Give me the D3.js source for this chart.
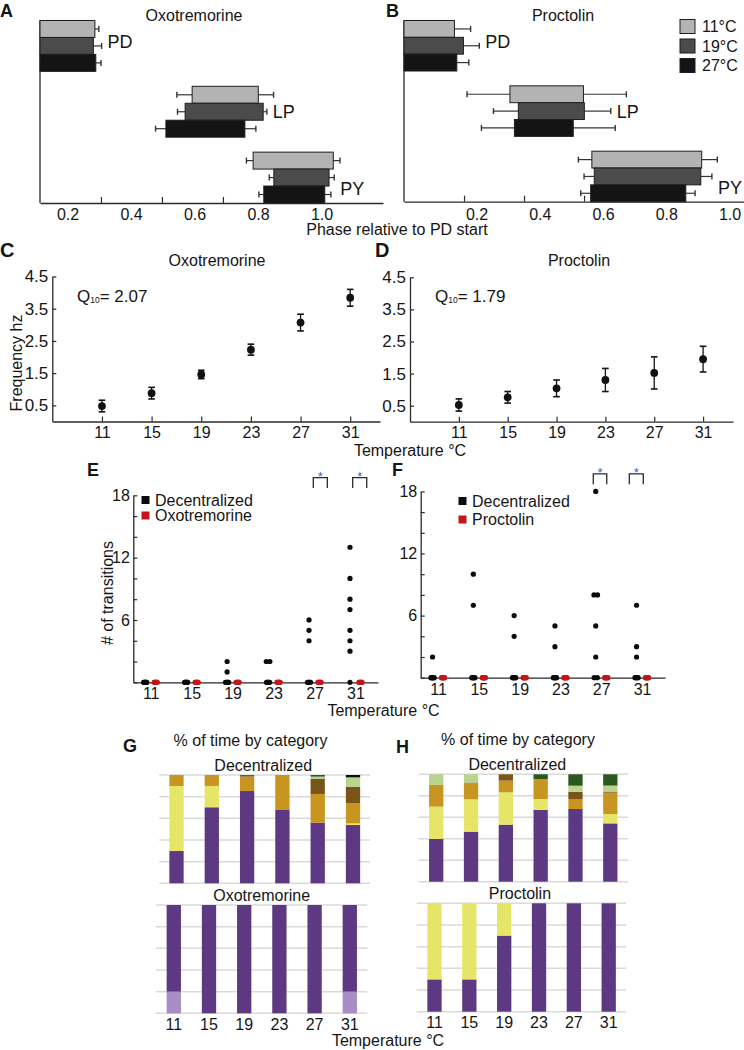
<!DOCTYPE html>
<html><head><meta charset="utf-8">
<script src="https://cdn.jsdelivr.net/npm/d3@7"></script>
<style>
body{margin:0;background:#fff}
svg{display:block}
text{font-family:"Liberation Sans",Arial,Helvetica,sans-serif}
</style>
</head><body>
<svg id="chart" width="744" height="1050"></svg>
<script>
// ---------------- DATA ----------------
const neurons = ["PD", "LP", "PY"];
const phaseTemps = ["11°C", "19°C", "27°C"];
const phaseColors = ["#b3b3b3", "#4b4b4b", "#141414"];
const phaseTicks = [0.2, 0.4, 0.6, 0.8];
const phaseTickLabels = [0.2, 0.4, 0.6, 0.8, 1.0];

// rows: neuron, columns: 11/19/27 °C
const oxoOn = [[0, 0, 0], [0.499, 0.476, 0.413], [0.699, 0.767, 0.734]];
const oxoOff = [[0.180, 0.175, 0.183], [0.716, 0.732, 0.672], [0.962, 0.948, 0.934]];
const oxoOnErr = [[0, 0, 0], [0.050, 0.025, 0.034], [0.022, 0.015, 0.016]];
const oxoOffErr = [[0.013, 0.027, 0.017], [0.050, 0.012, 0.036], [0.022, 0.017, 0.020]];

const procOn = [[0, 0, 0], [0.353, 0.381, 0.368], [0.626, 0.634, 0.622]];
const procOff = [[0.168, 0.198, 0.176], [0.598, 0.601, 0.564], [0.992, 0.989, 0.939]];
const procOnErr = [[0, 0, 0], [0.143, 0.083, 0.110], [0.045, 0.034, 0.033]];
const procOffErr = [[0.054, 0.053, 0.040], [0.143, 0.088, 0.140], [0.052, 0.037, 0.031]];

const temps = [11, 15, 19, 23, 27, 31];
const freqTicks = [0.5, 1.5, 2.5, 3.5, 4.5];
const oxoFreq = [0.48, 0.88, 1.46, 2.23, 3.07, 3.84];
const oxoFreqErr = [0.18, 0.18, 0.13, 0.17, 0.26, 0.26];
const procFreq = [0.52, 0.76, 1.04, 1.30, 1.52, 1.95];
const procFreqErr = [0.19, 0.18, 0.26, 0.36, 0.50, 0.40];

const transTicks = [0, 2, 4, 6, 8, 10, 12, 14, 16, 18];
const transTickLabels = [6, 12, 18];
const oxoDecTrans = [
  [0, 0, 0, 0, 0, 0, 0, 0],
  [0, 0, 0, 0, 0, 0, 0, 0],
  [2, 1, 0, 0, 0, 0, 0, 0],
  [2, 2, 0, 0, 0, 0, 0, 0],
  [6, 5, 4, 0, 0, 0, 0, 0],
  [13, 10, 8, 7, 5, 4, 3, 0]
];
const oxoDrugTrans = [
  [0, 0, 0, 0, 0, 0, 0, 0],
  [0, 0, 0, 0, 0, 0, 0, 0],
  [0, 0, 0, 0, 0, 0, 0, 0],
  [0, 0, 0, 0, 0, 0, 0, 0],
  [0, 0, 0, 0, 0, 0, 0, 0],
  [0, 0, 0, 0, 0, 0, 0, 0]
];
const procDecTrans = [
  [2, 0, 0, 0, 0, 0, 0],
  [10, 7, 0, 0, 0, 0, 0],
  [6, 4, 0, 0, 0, 0, 0],
  [5, 3, 0, 0, 0, 0, 0],
  [18, 8, 8, 5, 2, 0, 0],
  [7, 3, 2, 0, 0, 0, 0]
];
const procDrugTrans = [
  [0, 0, 0, 0, 0, 0, 0],
  [0, 0, 0, 0, 0, 0, 0],
  [0, 0, 0, 0, 0, 0, 0],
  [0, 0, 0, 0, 0, 0, 0],
  [0, 0, 0, 0, 0, 0, 0],
  [0, 0, 0, 0, 0, 0, 0]
];
// significance brackets (temperature units)
const oxoSig = [[26.88, 28.25], [30.73, 32.10]];
const procSig = [[26.22, 27.54], [29.75, 31.12]];

// % of time by category; categories bottom -> top
const categories = ["light purple", "purple", "yellow", "gold", "brown", "light green", "dark green", "black"];
const catColors = ["#aa8cc5", "#5d3983", "#e5e668", "#c89620", "#7a5519", "#b7d58c", "#2c581e", "#111111"];
const gridTicks = [0, 20, 40, 60, 80, 100];
const oxoDecPct = [
  [0, 29.8, 60.0, 10.2, 0, 0, 0, 0],
  [0, 70.2, 19.7, 10.1, 0, 0, 0, 0],
  [0, 85.2, 0, 13.3, 1.5, 0, 0, 0],
  [0, 67.7, 0, 32.3, 0, 0, 0, 0],
  [0, 56.0, 0, 26.5, 13.8, 2.2, 1.5, 0],
  [0, 53.8, 1.5, 18.5, 15.4, 8.6, 0, 2.2]
];
const oxoDrugPct = [
  [20, 80, 0, 0, 0, 0, 0, 0],
  [0, 100, 0, 0, 0, 0, 0, 0],
  [0, 100, 0, 0, 0, 0, 0, 0],
  [0, 100, 0, 0, 0, 0, 0, 0],
  [0, 100, 0, 0, 0, 0, 0, 0],
  [20, 80, 0, 0, 0, 0, 0, 0]
];
const procDecPct = [
  [0, 39.8, 30.1, 20.2, 0, 9.9, 0, 0],
  [0, 46.6, 30.1, 15.0, 0.6, 7.7, 0, 0],
  [0, 53.1, 30.1, 10.9, 5.9, 0, 0, 0],
  [0, 66.8, 10.2, 18.6, 0, 0, 4.4, 0],
  [0, 67.7, 0, 9.3, 6.8, 5.6, 10.6, 0],
  [0, 54.3, 8.7, 19.9, 1.0, 5.6, 10.5, 0]
];
const procDrugPct = [
  [0, 29.8, 70.2, 0, 0, 0, 0, 0],
  [0, 29.8, 70.2, 0, 0, 0, 0, 0],
  [0, 70.2, 29.8, 0, 0, 0, 0, 0],
  [0, 100, 0, 0, 0, 0, 0, 0],
  [0, 100, 0, 0, 0, 0, 0, 0],
  [0, 100, 0, 0, 0, 0, 0, 0]
];

// ---------------- DRAWING ----------------
const svg = d3.select("#chart");
svg.append("rect").attr("width", 744).attr("height", 1050).attr("fill", "#fff");
const AX = "#2a2a2a";

function txt(x, yc, str, size, opts = {}) {
  return svg.append("text")
    .attr("x", x).attr("y", yc + 0.36 * size)
    .attr("font-size", size)
    .attr("text-anchor", opts.anchor || "middle")
    .attr("font-weight", opts.bold ? "bold" : "normal")
    .style("fill", opts.fill || "#151515")
    .text(str);
}
function rtxt(cx, cy, str, size) {
  return svg.append("text")
    .attr("transform", `translate(${cx},${cy}) rotate(-90)`)
    .attr("y", 0.36 * size).attr("font-size", size)
    .attr("text-anchor", "middle").style("fill", "#151515").text(str);
}
function styleAxis(s) {
  s.select(".domain").attr("stroke", AX).attr("stroke-width", 1.3);
  s.selectAll(".tick line").attr("stroke", AX).attr("stroke-width", 1.2);
  s.selectAll(".tick text").style("fill", "#151515")
    .attr("font-family", '"Liberation Sans",Arial,sans-serif');
}

// ---- Panels A, B ----
function phasePanel(p) {
  const g = svg.append("g");
  const x = d3.scaleLinear().domain([0, p.xMax]).range([p.left, p.right]);
  const y = d3.scaleBand().domain(neurons).range([p.top, p.bottom]).paddingInner(0.227);
  const yi = d3.scaleBand().domain(phaseTemps).range([0, y.bandwidth()]);
  g.append("g").attr("transform", `translate(0,${p.bottom})`)
    .call(d3.axisBottom(x).tickValues(phaseTicks).tickSizeInner(-6).tickSizeOuter(0).tickFormat(""))
    .call(styleAxis);
  g.append("line").attr("x1", x(0)).attr("x2", x(0)).attr("y1", p.top).attr("y2", p.bottom)
    .attr("stroke", AX).attr("stroke-width", 1.3);
  const labelFrac = [0.42, 0.5, 0.72];
  neurons.forEach((n, i) => {
    phaseTemps.forEach((t, j) => {
      const y0 = y(n) + yi(t), h = yi.bandwidth(), ym = y0 + h / 2;
      const s = p.on[i][j], e = p.off[i][j], se = p.onErr[i][j], ee = p.offErr[i][j];
      const wh = (xa, xb, xc) => {
        g.append("line").attr("x1", xa).attr("x2", xb).attr("y1", ym).attr("y2", ym)
          .attr("stroke", "#333").attr("stroke-width", 1.2);
        g.append("line").attr("x1", xc).attr("x2", xc).attr("y1", ym - 3).attr("y2", ym + 3)
          .attr("stroke", "#333").attr("stroke-width", 1.4);
      };
      if (se > 0) wh(x(s - se), x(s), x(s - se));
      wh(x(e), x(e + ee), x(e + ee));
      g.append("rect").attr("x", x(s)).attr("y", y0).attr("width", x(e) - x(s)).attr("height", h)
        .attr("fill", phaseColors[j]).attr("stroke", "#1e1e1e").attr("stroke-width", 1);
    });
    txt(x(p.off[i][1] + p.offErr[i][1]) + 6, y(n) + y.bandwidth() * labelFrac[i], n, 18, { anchor: "start" });
  });
  const lx = d3.scaleLinear().domain([0.2, 1.0]).range(p.labelRange);
  phaseTickLabels.forEach(v => txt(lx(v), 214, d3.format(".1f")(v), 16));
  txt(p.titleX, 15, p.title, 16);
  txt(p.letterX, 10.2, p.letter, 18, { anchor: "start", bold: true });
}
phasePanel({ left: 40, right: 383, xMax: 1.125, top: 20.5, bottom: 203, on: oxoOn, off: oxoOff,
  onErr: oxoOnErr, offErr: oxoOffErr, labelRange: [68, 322], title: "Oxotremorine", titleX: 194, letter: "A", letterX: 0 });
phasePanel({ left: 404, right: 744, xMax: 1.133, top: 20.5, bottom: 201.7, on: procOn, off: procOff,
  onErr: procOnErr, offErr: procOffErr, labelRange: [477, 730], title: "Proctolin", titleX: 563, letter: "B", letterX: 386 });
// legend B
phaseTemps.forEach((t, j) => {
  svg.append("rect").attr("x", 680).attr("y", 19.5 + j * 19.5).attr("width", 15).attr("height", 14)
    .attr("fill", phaseColors[j]).attr("stroke", "#1e1e1e").attr("stroke-width", 1);
  txt(702, 26.5 + j * 19.5, t, 16, { anchor: "start" });
});
txt(397, 229, "Phase relative to PD start", 16);

// ---- Panels C, D ----
function freqPanel(p) {
  const g = svg.append("g");
  const x = d3.scaleLinear().domain([7, p.xMax]).range([p.left, p.right]);
  const y = d3.scaleLinear().domain([0, 4.5]).range([p.bottom, p.top]);
  g.append("g").attr("transform", `translate(${p.left},0)`)
    .call(d3.axisLeft(y).tickValues(freqTicks).tickSizeInner(-4).tickSizeOuter(0).tickPadding(4).tickFormat(d3.format(".1f")))
    .call(styleAxis).call(s => s.selectAll(".tick text").attr("font-size", 17));
  g.append("g").attr("transform", `translate(0,${p.bottom})`)
    .call(d3.axisBottom(x).tickValues(temps).tickSizeInner(-5).tickSizeOuter(0).tickPadding(5))
    .call(styleAxis).call(s => s.selectAll(".tick text").attr("font-size", 16));
  temps.forEach((T, i) => {
    const cx = x(T), v = p.vals[i], e = p.errs[i];
    g.append("line").attr("x1", cx).attr("x2", cx).attr("y1", y(v - e)).attr("y2", y(v + e))
      .attr("stroke", "#111").attr("stroke-width", 1.3);
    [v - e, v + e].forEach(w => g.append("line").attr("x1", cx - 3.3).attr("x2", cx + 3.3)
      .attr("y1", y(w)).attr("y2", y(w)).attr("stroke", "#111").attr("stroke-width", 1.6));
    g.append("circle").attr("cx", cx).attr("cy", y(v)).attr("r", 3.9).attr("fill", "#111");
  });
  txt(p.titleX, 260.5, p.title, 16);
  const q = svg.append("text").attr("x", p.qx).attr("y", 296 + 6).attr("font-size", 17).style("fill", "#151515");
  q.append("tspan").text("Q");
  q.append("tspan").attr("font-size", 8.5).attr("dy", 1).text("10");
  q.append("tspan").attr("dy", -1).text("= " + p.q10);
  txt(p.letterX, 250, p.letter, 20, { anchor: "start", bold: true });
}
freqPanel({ left: 52.3, right: 380, xMax: 33.4, top: 276.5, bottom: 421.5, vals: oxoFreq, errs: oxoFreqErr,
  title: "Oxotremorine", titleX: 217, qx: 77, q10: "2.07", letter: "C", letterX: 0 });
freqPanel({ left: 410, right: 733, xMax: 33.45, top: 277.3, bottom: 421.7, vals: procFreq, errs: procFreqErr,
  title: "Proctolin", titleX: 579, qx: 435, q10: "1.79", letter: "D", letterX: 375 });
rtxt(15.8, 363, "Frequency hz", 16);
txt(410, 450.5, "Temperature °C", 16);

// ---- Panels E, F ----
function transPanel(p) {
  const g = svg.append("g");
  const x = d3.scaleLinear().domain([9.3, p.xMax]).range([p.left, p.right]);
  const y = d3.scaleLinear().domain([0, 18]).range([p.bottom, p.top]);
  g.append("g").attr("transform", `translate(${p.left},0)`)
    .call(d3.axisLeft(y).tickValues(transTicks).tickSizeInner(-4).tickSizeOuter(0).tickPadding(3.5)
      .tickFormat(d => transTickLabels.includes(d) ? d : ""))
    .call(styleAxis).call(s => s.selectAll(".tick text").attr("font-size", 16));
  g.append("g").attr("transform", `translate(0,${p.bottom})`)
    .call(d3.axisBottom(x).tickValues(temps).tickSizeInner(0).tickSizeOuter(0).tickPadding(5.5))
    .call(styleAxis).call(s => s.selectAll(".tick text").attr("font-size", 16));
  function cluster(vals, cx, color) {
    const groups = d3.group(vals, v => v);
    groups.forEach((arr, v) => {
      const m = arr.length;
      arr.forEach((_, k) => {
        let dx;
        if (v === 0) dx = m > 1 ? (k / (m - 1) - 0.5) * 3.2 : 0;
        else dx = (k - (m - 1) / 2) * 3.6;
        g.append("circle").attr("cx", cx + dx).attr("cy", y(v)).attr("r", 2.6).attr("fill", color);
      });
    });
  }
  temps.forEach((T, i) => {
    cluster(p.dec[i], x(T) - 5.5, "#0b0b0b");
    cluster(p.drug[i], x(T) + 5, "#c3161c");
  });
  p.sig.forEach(([a, b]) => {
    g.append("path").attr("d", `M${x(a)},${y(18.7)}V${y(19.7)}H${x(b)}V${y(18.7)}`)
      .attr("fill", "none").attr("stroke", "#2a2a2a").attr("stroke-width", 1.3);
    g.append("text").attr("x", (x(a) + x(b)) / 2).attr("y", y(19.7) + 3).attr("font-size", 13)
      .attr("text-anchor", "middle").style("fill", "#3d62c8").text("*");
  });
  // legend
  [["#0b0b0b", "Decentralized"], ["#c3161c", p.drugName]].forEach(([c, t], k) => {
    svg.append("rect").attr("x", p.legX).attr("y", p.legY[k] - 4).attr("width", 8).attr("height", 8).attr("fill", c);
    txt(p.legX + 13.5, p.legY[k], t, 16, { anchor: "start" });
  });
  txt(p.letterX, 470, p.letter, 18, { anchor: "start", bold: true });
}
transPanel({ left: 133.3, right: 378, xMax: 33.2, top: 495.3, bottom: 682.3, dec: oxoDecTrans, drug: oxoDrugTrans,
  sig: oxoSig, drugName: "Oxotremorine", legX: 141.5, legY: [500, 515.5], letter: "E", letterX: 87 });
transPanel({ left: 420.7, right: 665, xMax: 33.25, top: 491.4, bottom: 677.7, dec: procDecTrans, drug: procDrugTrans,
  sig: procSig, drugName: "Proctolin", legX: 458.5, legY: [501, 519.5], letter: "F", letterX: 392 });
rtxt(107.5, 593, "# of transitions", 16);
txt(383.5, 710, "Temperature °C", 16);

// ---- Panels G, H ----
function stackPanel(p) {
  const g = svg.append("g");
  const x = d3.scalePoint().domain(temps).range([p.c0, p.c1]);
  const y = d3.scaleLinear().domain([0, 100]).range([p.bottom, p.top]);
  gridTicks.forEach(t => g.append("line").attr("x1", p.g0).attr("x2", p.g1).attr("y1", y(t)).attr("y2", y(t))
    .attr("stroke", "#dadada").attr("stroke-width", 1.5));
  const series = d3.stack().keys(d3.range(categories.length))(p.rows);
  const bw = 14.3;
  series.forEach((s, k) => {
    s.forEach((d, i) => {
      if (d[1] - d[0] <= 0) return;
      g.append("rect").attr("x", x(temps[i]) - bw / 2).attr("width", bw)
        .attr("y", y(d[1])).attr("height", y(d[0]) - y(d[1])).attr("fill", catColors[k]);
    });
  });
  txt((p.g0 + p.g1) / 2 + p.subDx, p.top - 10, p.sub, 16);
  if (p.ticks) temps.forEach(T => txt(x(T), p.bottom + 10.5, String(T), 16));
}
stackPanel({ c0: 176.5, c1: 353, g0: 159.3, g1: 370, top: 775, bottom: 883.3, rows: oxoDecPct, sub: "Decentralized", subDx: -1.4 });
stackPanel({ c0: 173.8, c1: 349.8, g0: 156, g1: 367.3, top: 905, bottom: 1013.3, rows: oxoDrugPct, sub: "Oxotremorine", subDx: 0, ticks: true });
stackPanel({ c0: 436.2, c1: 610.3, g0: 418.3, g1: 628.3, top: 774.3, bottom: 881.7, rows: procDecPct, sub: "Decentralized", subDx: -6 });
stackPanel({ c0: 434.5, c1: 608.7, g0: 416.7, g1: 626, top: 903.3, bottom: 1011.7, rows: procDrugPct, sub: "Proctolin", subDx: -1.4, ticks: true });
txt(250.5, 740, "% of time by category", 16);
txt(518, 739, "% of time by category", 16);
txt(123, 746, "G", 18, { anchor: "start", bold: true });
txt(396, 746.5, "H", 18, { anchor: "start", bold: true });
txt(388, 1040, "Temperature °C", 16);
</script>
</body></html>
